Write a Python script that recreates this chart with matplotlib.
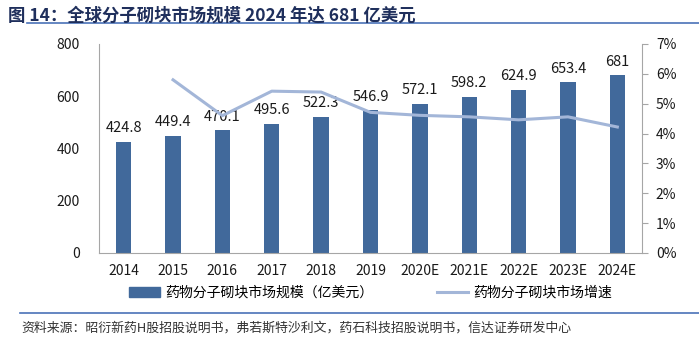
import numpy as np
import matplotlib.pyplot as plt
from matplotlib.lines import Line2D

plt.rcParams['font.family'] = ['Noto Sans CJK SC', 'DejaVu Sans']

# Data
years = ['2014', '2015', '2016', '2017', '2018', '2019',
         '2020E', '2021E', '2022E', '2023E', '2024E']
market = [424.8, 449.4, 470.1, 495.6, 522.3, 546.9,
          572.1, 598.2, 624.9, 653.4, 681]
growth = [None, 5.8, 4.6, 5.42, 5.39, 4.71, 4.61, 4.56, 4.46, 4.56, 4.22]
bar_labels = ['424.8', '449.4', '470.1', '495.6', '522.3', '546.9',
              '572.1', '598.2', '624.9', '653.4', '681']

bar_color = '#41699b'
line_color = '#a3b6d8'
axis_gray = '#a6a6a6'

fig = plt.figure(figsize=(6.99, 3.48), dpi=100)
ax = fig.add_axes([0.1416, 0.273, 0.7769, 0.6006])
x = np.arange(len(years))

ax.bar(x, market, width=0.31, color=bar_color, zorder=2)
for xi, v, lab in zip(x, market, bar_labels):
    ax.text(xi, v + 25, lab, ha='center', va='bottom', fontsize=10.5, color='#1a1a1a')

ax.set_xlim(-0.5, len(years) - 0.5)
ax.set_ylim(0, 800)
ax.set_yticks([0, 200, 400, 600, 800])
ax.set_xticks(x)
ax.set_xticklabels(years)
ax.tick_params(axis='both', length=0, labelsize=10, colors='#1a1a1a', pad=8)
ax.tick_params(axis='y', pad=14)
ax.spines['top'].set_visible(False)
ax.spines['right'].set_visible(False)
for s in ['left', 'bottom']:
    ax.spines[s].set_color(axis_gray)

ax2 = ax.twinx()
gx = [xi for xi, g in zip(x, growth) if g is not None]
gy = [g for g in growth if g is not None]
ax2.plot(gx, gy, color=line_color, linewidth=2.2, zorder=3)
ax2.set_ylim(0, 7)
ax2.set_yticks(range(8))
ax2.set_yticklabels(['%d%%' % i for i in range(8)])
ax2.tick_params(axis='y', length=4, color=axis_gray, labelsize=10, colors='#1a1a1a', pad=6)
ax2.spines['top'].set_visible(False)
ax2.spines['left'].set_visible(False)
ax2.spines['bottom'].set_visible(False)
ax2.spines['right'].set_color(axis_gray)

# Legend
handles = [plt.Rectangle((0, 0), 1, 1, color=bar_color),
           Line2D([0], [0], color=line_color, linewidth=2.2)]
fig.legend(handles, ['药物分子砌块市场规模（亿美元）', '药物分子砌块市场增速'],
           loc='center', bbox_to_anchor=(0.53, 0.158), ncol=2, frameon=False,
           fontsize=10, handlelength=2.2, handletextpad=0.4, columnspacing=4.6,
           bbox_transform=fig.transFigure)

# Title and source
fig.text(0.012, 0.955, '图 14：全球分子砌块市场规模 2024 年达 681 亿美元',
         fontsize=12.5, fontweight='bold', color='#1f2f5c', va='center')
fig.add_artist(Line2D([0.038, 1.0], [0.933, 0.933], color='#4a72b8', linewidth=1.2,
                      transform=fig.transFigure))
fig.add_artist(Line2D([0.028, 1.0], [0.100, 0.100], color='#4a72b8', linewidth=1.2,
                      transform=fig.transFigure))
fig.text(0.03, 0.058, '资料来源：昭衍新药H股招股说明书，弗若斯特沙利文，药石科技招股说明书，信达证券研发中心',
         fontsize=9.3, color='#333333', va='center', style='italic')

plt.savefig('out.png', dpi=100)
